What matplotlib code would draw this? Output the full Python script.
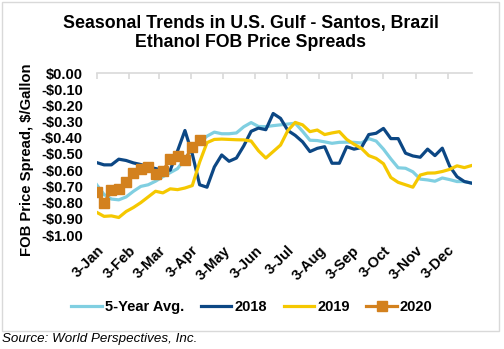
import matplotlib
matplotlib.use("Agg")
import matplotlib.pyplot as plt
import matplotlib.patches as patches
import numpy as np

plt.rcParams['font.family'] = ['Liberation Sans', 'DejaVu Sans']

# weekly observations, first one on 3-Jan (day offsets from 3-Jan)
days = np.arange(52) * 7

avg5 = [-0.69, -0.75, -0.778, -0.783, -0.765, -0.73, -0.70, -0.69, -0.668, -0.64,
        -0.615, -0.59, -0.53, -0.47, -0.43, -0.39, -0.365, -0.375, -0.375, -0.37,
        -0.332, -0.306, -0.33, -0.331, -0.325, -0.32, -0.315, -0.31, -0.36, -0.415,
        -0.417, -0.425, -0.434, -0.428, -0.427, -0.428, -0.432, -0.405, -0.42, -0.47,
        -0.53, -0.585, -0.588, -0.61, -0.655, -0.66, -0.668, -0.648, -0.658, -0.67,
        -0.67, -0.68]

y2018 = [-0.553, -0.567, -0.567, -0.532, -0.54, -0.555, -0.565, -0.58, -0.59, -0.60,
         -0.60, -0.48, -0.355, -0.50, -0.69, -0.705, -0.58, -0.506, -0.545, -0.525,
         -0.45, -0.36, -0.34, -0.35, -0.25, -0.28, -0.355, -0.385, -0.425, -0.485,
         -0.465, -0.455, -0.557, -0.557, -0.455, -0.47, -0.46, -0.38, -0.372, -0.342,
         -0.405, -0.405, -0.495, -0.512, -0.52, -0.47, -0.51, -0.464, -0.575, -0.64,
         -0.67, -0.68]

y2019 = [-0.86, -0.885, -0.882, -0.892, -0.855, -0.83, -0.80, -0.765, -0.73, -0.74,
         -0.715, -0.72, -0.71, -0.695, -0.55, -0.43, -0.41, -0.408, -0.41, -0.412,
         -0.413, -0.42, -0.48, -0.525, -0.485, -0.445, -0.355, -0.305, -0.32, -0.362,
         -0.352, -0.38, -0.37, -0.362, -0.41, -0.44, -0.465, -0.51, -0.527, -0.56,
         -0.645, -0.675, -0.69, -0.705, -0.63, -0.618, -0.617, -0.608, -0.595, -0.573,
         -0.584, -0.571]

y2020 = [-0.735, -0.805, -0.72, -0.715, -0.675, -0.62, -0.59, -0.58, -0.625, -0.605,
         -0.53, -0.51, -0.535, -0.455, -0.415]

month_days = [0, 31, 59, 90, 120, 151, 181, 212, 243, 273, 304, 334]
month_labels = ['3-Jan', '3-Feb', '3-Mar', '3-Apr', '3-May', '3-Jun',
                '3-Jul', '3-Aug', '3-Sep', '3-Oct', '3-Nov', '3-Dec']
y_ticks = np.round(np.arange(0, -1.01, -0.1), 2)

fig = plt.figure(figsize=(5.04, 3.49), dpi=100)
ax = fig.add_axes([96.7 / 504, 1 - 235 / 349, 375 / 504, 162 / 349])

ax.plot(days, avg5, color='#80cfe1', lw=2.3, label='5-Year Avg.')
ax.plot(days, y2018, color='#0c4784', lw=2.3, label='2018')
ax.plot(days, y2019, color='#f5c800', lw=2.3, label='2019')
ax.plot(days[:len(y2020)], y2020, color='#d3811e', lw=2.3, marker='s',
        markersize=7.5, label='2020')

ax.set_xlim(0, days[-1])
ax.set_ylim(-1.0, 0)

for s in ['left', 'right', 'bottom']:
    ax.spines[s].set_visible(False)
ax.spines['top'].set_color('#d9d9d9')
ax.spines['top'].set_linewidth(1.2)

ax.set_xticks(month_days)
ax.set_xticklabels(month_labels, rotation=45, ha='right', rotation_mode='anchor',
                   fontsize=10.5, fontweight='bold')
ax.tick_params(axis='x', top=True, bottom=False, labeltop=False, labelbottom=True,
               direction='in', length=4, color='#d9d9d9', width=1.2, pad=6)

ax.set_yticks(y_ticks)
ax.set_yticklabels(['$0.00' if v == 0 else '-${:.2f}'.format(abs(v)) for v in y_ticks],
                   fontsize=10.5, fontweight='bold')
ax.tick_params(axis='y', length=0, pad=10)

ax.set_ylabel('FOB Price Spread, $/Gallon', fontsize=10.7, fontweight='bold')
ax.yaxis.set_label_coords(-0.168, 0.465)

fig.text(0.497, 1 - 33 / 349, 'Seasonal Trends in U.S. Gulf - Santos, Brazil\nEthanol FOB Price Spreads',
         ha='center', va='center', fontsize=12.8, fontweight='bold', linespacing=1.15)

fig.legend(loc='center', bbox_to_anchor=(0.5, 1 - 307 / 349), ncol=4, frameon=False,
           prop={'size': 10.5, 'weight': 'bold'}, handlelength=2.1, handletextpad=0.2,
           columnspacing=1.15)

# chart border
fig.patches.append(patches.Rectangle((2 / 504, 1 - 331 / 349), 497 / 504, 329 / 349,
                                     transform=fig.transFigure, fill=False,
                                     edgecolor='#d9d9d9', lw=1))

fig.text(2 / 504, 1 - 339 / 349, 'Source: World Perspectives, Inc.', ha='left', va='center',
         fontsize=9.6, fontstyle='italic')

fig.savefig('out.png', dpi=100)
